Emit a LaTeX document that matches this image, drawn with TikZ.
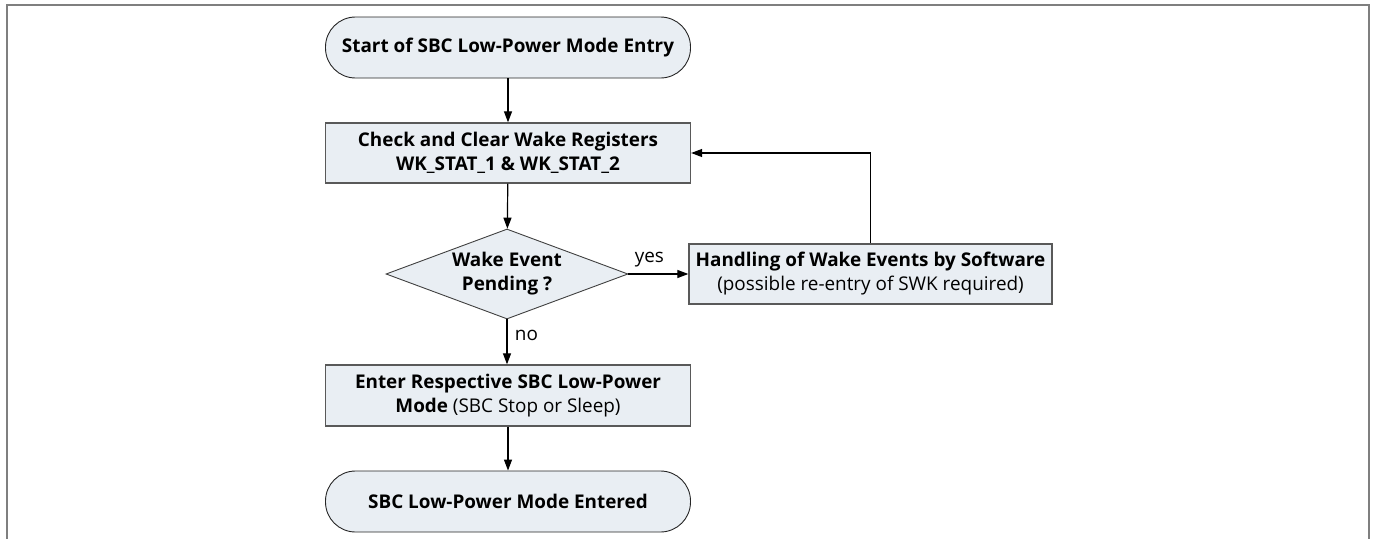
\documentclass[tikz,border=0pt]{standalone}
\usepackage{fontspec}
\setmainfont{Open Sans}
\usetikzlibrary{shapes.geometric, arrows.meta}

\definecolor{boxfill}{HTML}{E9EEF3}
\definecolor{framegray}{HTML}{7F7F7F}

\begin{document}
\begin{tikzpicture}[x=1pt,y=-1pt,font=\fontsize{18.9}{24}\selectfont,
  box/.style={draw=black!65, line width=1.3pt, fill=boxfill, minimum width=365pt, minimum height=60pt, align=center, inner sep=0pt},
  term/.style={box, rounded corners=30pt, draw=black!85, line width=0.9pt, minimum height=61pt},
  dec/.style={diamond, aspect=2.7, draw=black!75, line width=0.9pt, fill=boxfill, minimum width=242pt, minimum height=90pt, align=center, inner sep=0pt},
  conn/.style={-{Triangle[length=11pt,width=8pt]}, line width=1.2pt}]
\useasboundingbox (0,0) rectangle (1375,538);
\draw[framegray, line width=2pt] (7,545) -- (7,5) -- (1369,5) -- (1369,545);

\node[term] (start) at (508,47.5) {\textbf{Start of SBC Low-Power Mode Entry}};
\node[box] (check) at (508,153) {\textbf{Check and Clear Wake Registers}\\\textbf{WK\_STAT\_1 \& WK\_STAT\_2}};
\node[dec] (wake) at (507,274) {\textbf{Wake Event}\\\textbf{Pending ?}};
\node[box, minimum width=363pt] (handle) at (870.5,274) {\textbf{Handling of Wake Events by Software}\\(possible re-entry of SWK required)};
\node[box, minimum height=61pt] (enter) at (508,395.5) {\textbf{Enter Respective SBC Low-Power}\\\textbf{Mode} (SBC Stop or Sleep)};
\node[term] (end) at (508,501.5) {\textbf{SBC Low-Power Mode Entered}};

\draw[conn] (start) -- (check);
\draw[conn] (check) -- (wake);
\draw[conn] (wake) -- node[pos=0.35, above=3pt] {yes} (handle);
\draw[conn] (wake.south) -- node[pos=0.35, right=4pt] {no} (wake.south |- enter.north);
\draw[conn] (handle.north) |- (check.east);
\draw[conn] (enter) -- (end);

\end{tikzpicture}
\end{document}
